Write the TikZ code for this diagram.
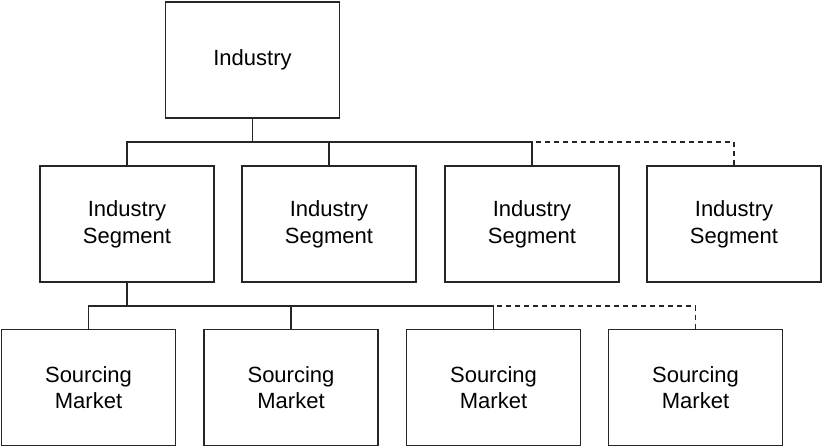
\documentclass[tikz,border=0pt]{standalone}
\usepackage{fontspec}
\setmainfont{Liberation Sans}
\usepackage{tikz}
\usetikzlibrary{positioning}

\tikzset{
  orgbox/.style={draw=black!85,line width=0.6pt,rectangle,minimum width=87pt,minimum height=58pt,
    align=center,inner sep=0pt,font=\fontsize{11}{13.3}\selectfont},
  link/.style={draw=black!85,line width=0.6pt},
  maybe/.style={link,dash pattern=on 2.5pt off 2pt}
}

\begin{document}
\begin{tikzpicture}[x=0.5pt,y=-0.5pt]
\useasboundingbox (0,0) rectangle (822,446);
% top level
\node[orgbox] (ind) at (252.5,60) {Industry};
% segments
\node[orgbox] (seg1) at (127,224) {Industry\\Segment};
\node[orgbox] (seg2) at (329,224) {Industry\\Segment};
\node[orgbox] (seg3) at (532,224) {Industry\\Segment};
\node[orgbox] (seg4) at (734,224) {Industry\\Segment};
% sourcing markets
\node[orgbox] (src1) at (88.5,387.5) {Sourcing\\Market};
\node[orgbox] (src2) at (291,387.5) {Sourcing\\Market};
\node[orgbox] (src3) at (493.5,387.5) {Sourcing\\Market};
\node[orgbox] (src4) at (695.5,387.5) {Sourcing\\Market};
\coordinate (bus1) at (252.5,142);
\coordinate (bus2) at (127,306);
% connectors
\draw[link] (ind.south) -- (bus1);
\draw[link] (seg1.north) |- (bus1);
\draw[link] (seg2.north) |- (bus1);
\draw[link] (seg3.north) |- (bus1);
\draw[maybe] (seg4.north) |- (seg3.north |- bus1);
\draw[link] (seg1.south) -- (bus2);
\draw[link] (src1.north) |- (bus2);
\draw[link] (src2.north) |- (bus2);
\draw[link] (src3.north) |- (bus2);
\draw[maybe] (src4.north) |- (src3.north |- bus2);
\end{tikzpicture}
\end{document}
